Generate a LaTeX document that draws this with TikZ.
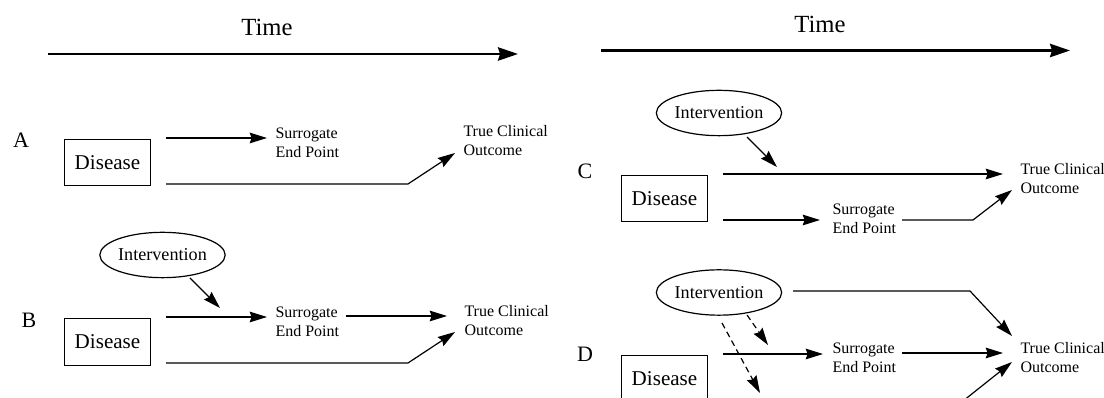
\documentclass[tikz,border=0pt]{standalone}
\usepackage{fontspec}
\setmainfont{Liberation Serif}
\usetikzlibrary{arrows.meta,shapes.geometric}

\tikzset{every picture/.style={line width=0.75pt}}
\tikzset{
	arr/.style={-{Stealth[length=13pt,width=8pt,inset=1.5pt]},line width=0.9pt},
	timearr/.style={-{Stealth[length=15pt,width=10pt,inset=1.5pt]},line width=1.8pt},
	dasharr/.style={arr,dash pattern={on 4.5pt off 3pt}},
	dbox/.style={draw,line width=0.9pt,minimum width=65pt,minimum height=35pt,inner sep=0pt,font=\fontsize{15.8}{17}\selectfont},
	iell/.style={draw,ellipse,line width=0.9pt,minimum width=89pt,minimum height=34pt,inner sep=0pt,font=\fontsize{13.6}{15}\selectfont},
	lbl/.style={anchor=north west,inner sep=0.75pt,align=left,font=\fontsize{12}{14.2}\selectfont},
	panel/.style={inner sep=0pt,font=\fontsize{16.5}{18}\selectfont},
	timelbl/.style={inner sep=0pt,font=\fontsize{18.5}{20}\selectfont}
}

\begin{document}
\begin{tikzpicture}[x=0.75pt,y=0.75pt,yscale=-1,xscale=1]
	\useasboundingbox (0,0) rectangle (1104,398);
	\clip (0,0) rectangle (1104,398);
	
	%Time axis, left
	\node[timelbl] (timeL) at (267,27) {Time};
	\coordinate (tL1) at (48,54);
	\coordinate (tL2) at (518,54);
	\draw[timearr] (tL1) -- (tL2);
	%Time axis, right
	\node[timelbl] (timeR) at (820,24) {Time};
	\coordinate (tR1) at (601,50.5);
	\coordinate (tR2) at (1070,50.5);
	\draw[timearr] (tR1) -- (tR2);
	
	%Panel A
	\node[panel] (labA) at (21,140) {A};
	\node[dbox] (dA) at (107.5,162.5) {Disease};
	\node[lbl] (sA) at (274,126) {Surrogate\\End Point};
	\node[lbl] (tA) at (462,124) {True Clinical\\Outcome};
	\coordinate (a1) at (166,138);
	\coordinate (a2) at (267,138);
	\coordinate (a3) at (166,184);
	\coordinate (a4) at (408,184);
	\coordinate (a5) at (455,153);
	\draw[arr] (a1) -- (a2);
	\draw[arr] (a3) -- (a4) -- (a5);
	
	%Panel B
	\node[panel] (labB) at (29,320) {B};
	\node[dbox] (dB) at (107.5,342) {Disease};
	\node[iell] (iB) at (162.5,255) {Intervention};
	\node[lbl] (sB) at (274,305) {Surrogate\\End Point};
	\node[lbl] (tB) at (463,304) {True Clinical\\Outcome};
	\coordinate (b0) at (190,278);
	\coordinate (b1) at (220,308);
	\coordinate (b2) at (166,317);
	\coordinate (b3) at (267,317);
	\coordinate (b4) at (346,316);
	\coordinate (b5) at (447,316);
	\coordinate (b6) at (166,363);
	\coordinate (b7) at (408,363);
	\coordinate (b8) at (455,332);
	\draw[arr] (b0) -- (b1);
	\draw[arr] (b2) -- (b3);
	\draw[arr] (b4) -- (b5);
	\draw[arr] (b6) -- (b7) -- (b8);
	
	%Panel C
	\node[panel] (labC) at (585,171) {C};
	\node[dbox] (dC) at (664.5,198.5) {Disease};
	\node[iell] (iC) at (719,113) {Intervention};
	\node[lbl] (sC) at (831,202) {Surrogate\\End Point};
	\node[lbl] (tC) at (1019,162) {True Clinical\\Outcome};
	\coordinate (c0) at (747,137);
	\coordinate (c1) at (777,167);
	\coordinate (c2) at (723,174);
	\coordinate (c3) at (1003,174);
	\coordinate (c4) at (723,220);
	\coordinate (c5) at (820,220);
	\coordinate (c6) at (902,220);
	\coordinate (c7) at (973,220);
	\coordinate (c8) at (1012,190);
	\draw[arr] (c0) -- (c1);
	\draw[arr] (c2) -- (c3);
	\draw[arr] (c4) -- (c5);
	\draw[arr] (c6) -- (c7) -- (c8);
	
	%Panel D
	\node[panel] (labD) at (585,354) {D};
	\node[dbox] (dD) at (664.5,378.5) {Disease};
	\node[iell] (iD) at (719,292.5) {Intervention};
	\node[lbl] (sD) at (831,341) {Surrogate\\End Point};
	\node[lbl] (tD) at (1019,341) {True Clinical\\Outcome};
	\coordinate (d0) at (793,291);
	\coordinate (d1) at (970,291);
	\coordinate (d2) at (1012,336);
	\coordinate (d3) at (723,354);
	\coordinate (d4) at (823,354);
	\coordinate (d5) at (902,353);
	\coordinate (d6) at (1003,353);
	\coordinate (d7) at (723,401);
	\coordinate (d8) at (963,401);
	\coordinate (d9) at (1012,362);
	\coordinate (e0) at (747,315);
	\coordinate (e1) at (768,345);
	\coordinate (e2) at (722,323);
	\coordinate (e3) at (760,393);
	\draw[arr] (d0) -- (d1) -- (d2);
	\draw[arr] (d3) -- (d4);
	\draw[arr] (d5) -- (d6);
	\draw[arr] (d7) -- (d8) -- (d9);
	\draw[dasharr] (e0) -- (e1);
	\draw[dasharr] (e2) -- (e3);
	
\end{tikzpicture}
\end{document}
